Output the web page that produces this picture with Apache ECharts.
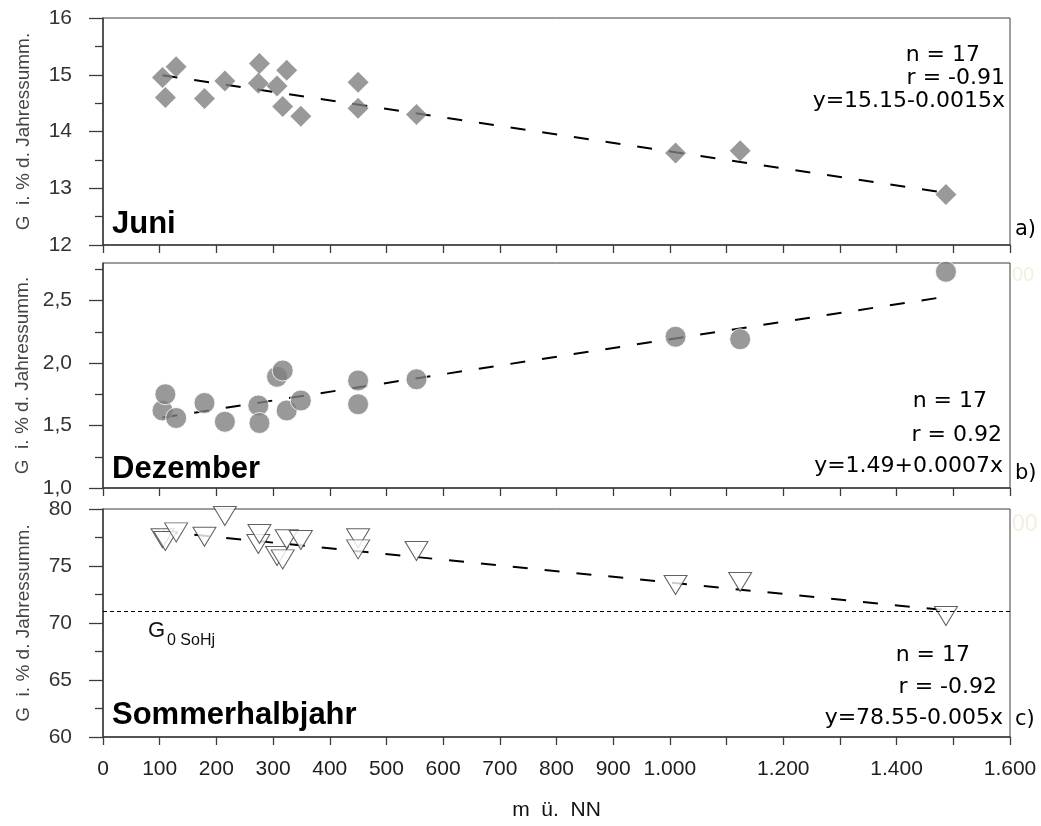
<!DOCTYPE html>
<html>
<head>
<meta charset="utf-8">
<script src="https://cdn.jsdelivr.net/npm/echarts@6/dist/echarts.min.js"></script>
<style>
  html, body { margin: 0; padding: 0; background: #fff; }
  #chart { width: 1041px; height: 826px; }
</style>
</head>
<body>
<div id="chart"></div>
<script>
// Station elevations (m ü. NN), same order in every panel
const elevation = [105, 110, 129, 179, 215, 274, 276, 307, 317, 324, 349, 450, 450, 553, 1010, 1124, 1487];

// Global radiation share of the annual sum (%)
const juni = [14.95, 14.60, 15.14, 14.58, 14.89, 14.85, 15.20, 14.80, 14.44, 15.08, 14.27, 14.87, 14.41, 14.30, 13.62, 13.66, 12.89];
const dezember = [1.62, 1.75, 1.56, 1.68, 1.53, 1.66, 1.52, 1.89, 1.94, 1.62, 1.70, 1.86, 1.67, 1.87, 2.21, 2.19, 2.73];
const sommerhalbjahr = [77.43, 77.19, 77.95, 77.57, 79.39, 76.93, 77.81, 75.88, 75.58, 77.34, 77.28, 77.43, 76.46, 76.32, 73.33, 73.60, 70.61];

// Regression lines and statistics per panel
const trendIntercept = [15.15, 1.49, 78.55];
const trendSlope = [-0.0015, 0.0007, -0.005];
const statN = [17, 17, 17];
const statR = ['-0.91', '0.92', '-0.92'];

// Extraterrestrial reference for the summer half-year
const g0Sommer = 71.0;

// Axis ticks
const xLabelValues = [0, 100, 200, 300, 400, 500, 600, 700, 800, 900, 1000, 1200, 1400, 1600];
const yMajor = [[12, 13, 14, 15, 16], [1.0, 1.5, 2.0, 2.5], [60, 65, 70, 75, 80]];
const yMinor = [[12.5, 13.5, 14.5, 15.5], [1.25, 1.75, 2.25, 2.75], [62.5, 67.5, 72.5, 77.5]];
const yRange = [[12, 16], [1.0, 2.8], [60, 80]];

const panelTitles = ['Juni', 'Dezember', 'Sommerhalbjahr'];
const panelTags = ['a)', 'b)', 'c)'];
const yName = 'G  i. % d. Jahressumm.';
const xName = 'm  ü.  NN';

// ---- layout ----
const LEFT = 103, RIGHT = 1010;
const panels = [
  { top: 18, height: 227 },
  { top: 263, height: 225 },
  { top: 509, height: 228 }
];
const AX = '#3c3c3c';
const SANS = '"Liberation Sans", Arial, sans-serif';
const WIDE = '"DejaVu Sans", sans-serif';

function fmtThousands(v) {
  if (v >= 1000) return Math.floor(v / 1000) + '.' + String(v % 1000).padStart(3, '0');
  return String(v);
}
const yFormat = [
  v => String(Math.round(v)),
  v => v.toFixed(1).replace('.', ','),
  v => String(Math.round(v))
];

const seriesValues = [juni, dezember, sommerhalbjahr];
const markers = [
  { symbol: 'diamond', symbolSize: [21, 21], symbolRotate: 0,
    itemStyle: { color: '#808080', borderWidth: 0 } },
  { symbol: 'circle', symbolSize: 21, symbolRotate: 0,
    itemStyle: { color: '#808080', borderColor: '#ffffff', borderWidth: 1 } },
  { symbol: 'triangle', symbolSize: [23, 19], symbolRotate: 180,
    itemStyle: { color: '#ffffff', borderColor: '#3a3a3a', borderWidth: 1 } }
];

const grid = panels.map(p => ({
  left: LEFT, top: p.top, width: RIGHT - LEFT, height: p.height,
  show: true, borderColor: AX, borderWidth: 1, backgroundColor: 'transparent',
  containLabel: false, outerBoundsMode: 'none'
}));

const xAxis = panels.map((p, i) => ({
  gridIndex: i, type: 'value', min: 0, max: 1600, interval: 100,
  axisLine: { show: true, onZero: false, lineStyle: { color: AX, width: 1.5 } },
  axisTick: { show: true, inside: false, length: 8, lineStyle: { color: AX, width: 1.3 } },
  axisLabel: i === 2
    ? { show: true, customValues: xLabelValues, formatter: fmtThousands, margin: 22,
        color: '#1e1e1e', fontFamily: SANS, fontSize: 21 }
    : { show: false },
  splitLine: { show: false },
  name: i === 2 ? xName : '',
  nameLocation: 'middle', nameGap: 63,
  nameTextStyle: { color: '#111', fontFamily: SANS, fontSize: 21 }
}));

const yAxis = [];
panels.forEach((p, i) => {
  yAxis.push({
    gridIndex: i, type: 'value', position: 'left',
    min: yRange[i][0], max: yRange[i][1],
    axisLine: { show: true, onZero: false, lineStyle: { color: AX, width: 1.5 } },
    axisTick: { show: true, inside: false, length: 14, customValues: yMajor[i],
      lineStyle: { color: AX, width: 1.3 } },
    axisLabel: { show: true, customValues: yMajor[i], formatter: yFormat[i], margin: 31,
      color: '#333', fontFamily: SANS, fontSize: 21 },
    splitLine: { show: false },
    name: yName, nameLocation: 'middle', nameRotate: 90, nameGap: 70,
    nameTextStyle: { color: '#444', fontFamily: SANS, fontSize: 19 }
  });
  yAxis.push({
    gridIndex: i, type: 'value', position: 'left',
    min: yRange[i][0], max: yRange[i][1],
    axisLine: { show: false },
    axisTick: { show: true, inside: false, length: 8, customValues: yMinor[i],
      lineStyle: { color: AX, width: 1.3 } },
    axisLabel: { show: false },
    splitLine: { show: false }
  });
});

const series = [];
panels.forEach((p, i) => {
  const vals = seriesValues[i];
  const xmin = Math.min(...elevation), xmax = Math.max(...elevation);
  const a = trendIntercept[i], b = trendSlope[i];
  const trend = {
    type: 'line', xAxisIndex: i, yAxisIndex: 2 * i,
    data: [[xmin, a + b * xmin], [xmax, a + b * xmax]],
    symbol: 'none', showSymbol: false, silent: true, z: 2,
    lineStyle: { color: '#000', width: 2, type: [15, 17] }
  };
  if (i === 2) {
    trend.markLine = {
      silent: true, symbol: 'none', animation: false,
      label: { show: false },
      lineStyle: { color: '#000', width: 1, type: [4, 3] },
      data: [{ yAxis: g0Sommer }]
    };
  }
  series.push(trend);
  series.push(Object.assign({
    type: 'scatter', xAxisIndex: i, yAxisIndex: 2 * i, z: 3, silent: true,
    data: elevation.map((x, k) => [x, vals[k]])
  }, markers[i]));
});

// ---- annotations ----
const graphic = [];
const titleY = [224, 469, 715];
const tagY = [230, 474, 720];
panels.forEach((p, i) => {
  graphic.push({ type: 'text', x: 112, y: titleY[i], silent: true,
    style: { text: panelTitles[i], font: 'bold 31px ' + SANS, fill: '#000', verticalAlign: 'middle' } });
  graphic.push({ type: 'text', x: 1015, y: tagY[i], silent: true,
    style: { text: panelTags[i], font: '21px ' + WIDE, fill: '#000', verticalAlign: 'middle' } });
});

const statPos = [
  [[980, 55], [1005, 78], [1005, 101]],
  [[987, 401], [1002, 435], [1003, 466]],
  [[970, 655], [997, 687], [1003, 718]]
];
panels.forEach((p, i) => {
  const b = trendSlope[i];
  const eq = 'y=' + trendIntercept[i] + (b < 0 ? '-' : '+') + Math.abs(b) + 'x';
  const lines = ['n = ' + statN[i], 'r = ' + statR[i], eq];
  lines.forEach((t, k) => {
    graphic.push({ type: 'text', x: statPos[i][k][0], y: statPos[i][k][1], silent: true,
      style: { text: t, font: '22px ' + WIDE, fill: '#000', align: 'right', verticalAlign: 'middle' } });
  });
});

// G0 label for the summer half-year reference line
graphic.push({ type: 'text', x: 148, y: 631, silent: true,
  style: { text: 'G', font: '22px ' + SANS, fill: '#111', verticalAlign: 'middle' } });
graphic.push({ type: 'text', x: 167, y: 641, silent: true,
  style: { text: '0 SoHj', font: '16px ' + SANS, fill: '#111', verticalAlign: 'middle' } });

// faint leftover labels at the right margin
graphic.push({ type: 'text', x: 1012, y: 275, silent: true,
  style: { text: '00', font: '20px ' + SANS, fill: '#f4efde', verticalAlign: 'middle' } });
graphic.push({ type: 'text', x: 1012, y: 525, silent: true,
  style: { text: '00', font: '23px ' + SANS, fill: '#f4efde', verticalAlign: 'middle' } });

const chart = echarts.init(document.getElementById('chart'), null, { renderer: 'canvas' });
chart.setOption({
  animation: false,
  backgroundColor: '#ffffff',
  grid, xAxis, yAxis, series, graphic
});
</script>
</body>
</html>
